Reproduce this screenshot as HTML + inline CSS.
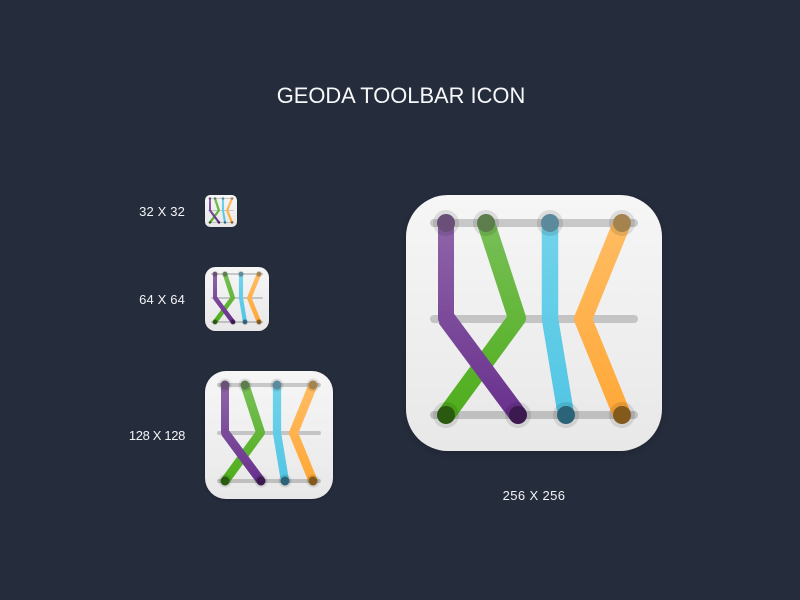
<!DOCTYPE html>
<html><head><meta charset="utf-8"><style>
html,body{margin:0;padding:0;background:#252c3c}
body{width:800px;height:600px;overflow:hidden;position:relative;font-family:"Liberation Sans",sans-serif;color:#fff}
.t{position:absolute;white-space:nowrap;line-height:16px}
.l{font-size:13px;color:#f2f3f5;text-align:right;width:100px;left:85px}
svg{position:absolute;left:0;top:0}
</style></head><body>
<svg width="800" height="600" viewBox="0 0 800 600" xmlns="http://www.w3.org/2000/svg">
<defs>
<linearGradient id="bg" x1="0" y1="0" x2="0" y2="1"><stop offset="0" stop-color="#f6f6f6"/><stop offset="1" stop-color="#e8e8e8"/></linearGradient>
<linearGradient id="pu" gradientUnits="userSpaceOnUse" x1="0" y1="28" x2="0" y2="220"><stop offset="0" stop-color="#8f65a8"/><stop offset="1" stop-color="#69318e"/></linearGradient>
<linearGradient id="gr" gradientUnits="userSpaceOnUse" x1="0" y1="28" x2="0" y2="220"><stop offset="0" stop-color="#78bf58"/><stop offset="1" stop-color="#4fae1c"/></linearGradient>
<linearGradient id="cy" gradientUnits="userSpaceOnUse" x1="0" y1="28" x2="0" y2="220"><stop offset="0" stop-color="#72d3ea"/><stop offset="1" stop-color="#52c6e4"/></linearGradient>
<linearGradient id="or" gradientUnits="userSpaceOnUse" x1="0" y1="28" x2="0" y2="220"><stop offset="0" stop-color="#ffbc62"/><stop offset="1" stop-color="#ffa838"/></linearGradient>
<filter id="sh" x="-20%" y="-20%" width="140%" height="140%"><feDropShadow dx="0" dy="2" stdDeviation="4" flood-color="#000" flood-opacity=".2"/></filter>
<g id="icon">
<rect x="0" y="0" width="256" height="256" rx="42" fill="url(#bg)" filter="url(#sh)"/>
<g stroke="#000" stroke-opacity=".18" stroke-width="8" stroke-linecap="round">
<path d="M28 28H228M28 124H228M28 220H228"/>
</g>
<g fill="none" stroke-width="18" stroke-linejoin="round">
<path d="M80 28L111 123L40 220" stroke="url(#gr)"/>
<path d="M40 28V123" stroke="url(#pu)" stroke-width="16"/>
<path d="M40 123L112 220" stroke="url(#pu)"/>
<path d="M144 28V124L160 220" stroke="url(#cy)" stroke-width="16.5"/>
<path d="M216 28L177 124L216 220" stroke="url(#or)"/>
</g>
<circle cx="40" cy="123" r="8" fill="#7c4a9a"/>
<g fill="#000" fill-opacity=".1">
<circle cx="40" cy="28" r="13"/><circle cx="80" cy="28" r="13"/><circle cx="144" cy="28" r="13"/><circle cx="216" cy="28" r="13"/>
<circle cx="40" cy="220" r="13"/><circle cx="112" cy="220" r="13"/><circle cx="160" cy="220" r="13"/><circle cx="216" cy="220" r="13"/>
</g>
<circle cx="40" cy="28" r="9" fill="#6a4f78"/><circle cx="80" cy="28" r="9" fill="#5d7d4c"/><circle cx="144" cy="28" r="9" fill="#5b8a9c"/><circle cx="216" cy="28" r="9" fill="#a5834f"/>
<circle cx="40" cy="220" r="9" fill="#2a5a10"/><circle cx="112" cy="220" r="9" fill="#3c1a50"/><circle cx="160" cy="220" r="9" fill="#2b6478"/><circle cx="216" cy="220" r="9" fill="#835a1c"/>
</g>
</defs>
<use href="#icon" transform="translate(406 195)"/>
<use href="#icon" transform="translate(205 371) scale(.5)"/>
<use href="#icon" transform="translate(205 267) scale(.25)"/>
<use href="#icon" transform="translate(205 195) scale(.125)"/>
</svg>
<div class="t" style="left:201px;width:400px;top:82px;line-height:28px;text-align:center;font-size:21.9px;color:#f7f8f9">GEODA TOOLBAR ICON</div>
<div class="t l" style="top:204px;letter-spacing:.15px">32 X 32</div>
<div class="t l" style="top:292px;letter-spacing:.15px">64 X 64</div>
<div class="t l" style="top:428px;letter-spacing:-.35px">128 X 128</div>
<div class="t" style="left:434px;width:200px;text-align:center;top:488px;font-size:13px;letter-spacing:.4px;color:#f2f3f5">256 X 256</div>
</body></html>
